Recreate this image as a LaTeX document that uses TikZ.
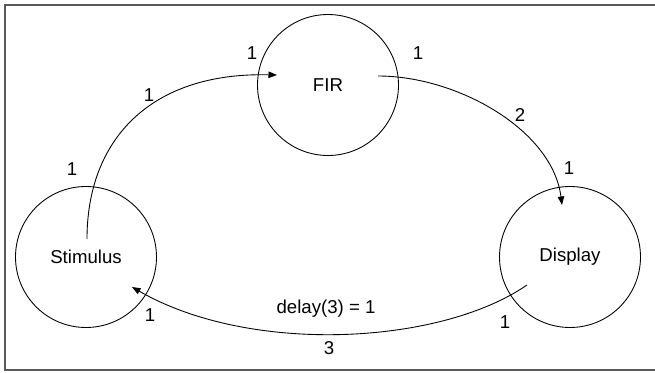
\documentclass[tikz,border=0pt]{standalone}
\usepackage{fontspec}
\setmainfont{Liberation Sans}
\usetikzlibrary{shapes,arrows.meta}

\tikzset{
	actor/.style={draw, circle, minimum size=2.82cm, inner sep=0pt, line width=0.5pt},
	flow/.style={-{Triangle[length=1.7mm,width=1.3mm]}, line width=0.5pt},
	rate/.style={inner sep=0pt}
}

\begin{document}
\begin{tikzpicture}[font=\fontsize{10.6}{12}\selectfont]
	
	\useasboundingbox (0,0) rectangle (13.1,7.44);
	\draw[line width=0.8pt, black!65] (13.3,7.34) -- (0.10,7.34) -- (0.10,0.04) -- (13.3,0.04);
	
	\node [actor] (stim) at (1.72,2.30){Stimulus};
	\node [actor] (fir) at (6.56,5.74){FIR};
	\node [actor] (disp) at (11.40,2.30){Display};
	
	\draw[flow] ([shift={(0.02,0.36)}]stim.center) .. controls (1.74,4.64) and (3.00,6.00) .. ([shift={(-1.02,0.20)}]fir.center);
	\draw[flow] ([shift={(1.00,0.18)}]fir.center) .. controls (9.15,5.92) and (11.05,4.84) .. ([shift={(-0.16,1.04)}]disp.center);
	\draw[flow] ([shift={(-0.86,-0.56)}]disp.center) .. controls (8.80,0.54) and (5.00,0.34) .. ([shift={(0.92,-0.60)}]stim.center);
	
	% token rates
	\node [rate] (r1) at (1.44,4.06){1};
	\node [rate] (r2) at (2.98,5.54){1};
	\node [rate] (r3) at (5.04,6.38){1};
	\node [rate] (r4) at (8.36,6.38){1};
	\node [rate] (r5) at (10.40,5.14){2};
	\node [rate] (r6) at (11.38,4.08){1};
	\node [rate] (r7) at (10.10,1.00){1};
	\node [rate] (r8) at (3.00,1.14){1};
	\node [rate] (r9) at (6.58,0.48){3};
	\node [rate] (delay) at (6.52,1.26){delay(3) = 1};
	
\end{tikzpicture}
\end{document}
